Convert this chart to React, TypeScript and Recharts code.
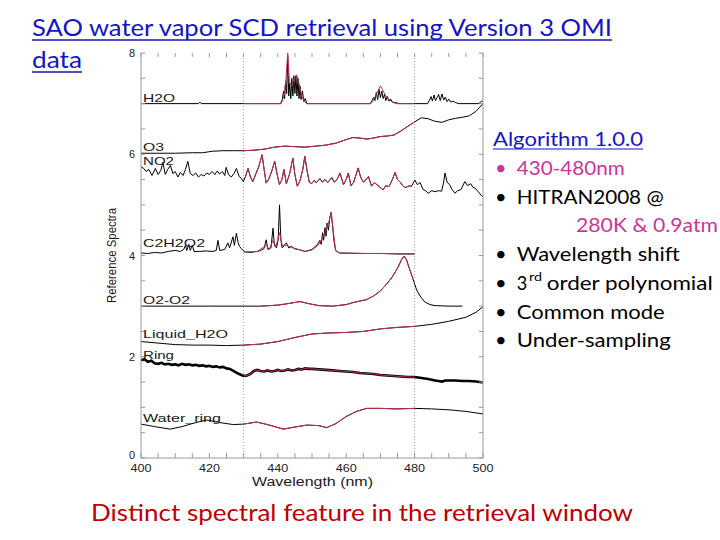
import { LineChart, Line, XAxis, YAxis, ReferenceLine } from "recharts";

type Pt = [number, number];

// axis ticks
const X_TICKS = [400, 405, 410, 415, 420, 425, 430, 435, 440, 445, 450, 455, 460, 465, 470, 475, 480, 485, 490, 495, 500];
const X_LABELS = [400, 420, 440, 460, 480, 500];
const Y_TICKS = [0, 0.5, 1, 1.5, 2, 2.5, 3, 3.5, 4, 4.5, 5, 5.5, 6, 6.5, 7, 7.5, 8];
const Y_LABELS = [0, 2, 4, 6, 8];
const FIT_WINDOW: Pt = [430, 480];
const GRID_X = [430, 480];

// reference spectra (wavelength nm, offset value)
const H2O: Pt[] = [
  [400, 7.0], [416.8, 7.0], [417.2, 7.03], [417.6, 7.0], [440.8, 7.0], [441.3, 7.08], [441.7, 7.25], [442.0, 7.1],
  [442.3, 7.45], [442.6, 7.2], [442.9, 7.95], [443.2, 7.15], [443.5, 7.4], [443.8, 7.1], [444.1, 7.5], [444.4, 7.15],
  [444.7, 7.55], [445.0, 7.2], [445.3, 7.55], [445.6, 7.15], [445.9, 7.5], [446.2, 7.1], [446.5, 7.35], [446.8, 7.08],
  [447.2, 7.25], [447.6, 7.04], [448.0, 7.1], [448.5, 7.0], [467.0, 7.0], [467.5, 7.05], [468.0, 7.12], [468.4, 7.06],
  [468.8, 7.22], [469.2, 7.08], [469.6, 7.28], [470.0, 7.12], [470.4, 7.25], [470.8, 7.1], [471.2, 7.18], [471.6, 7.06],
  [472.0, 7.14], [472.5, 7.05], [473.0, 7.09], [473.5, 7.03], [474.5, 7.02], [475.5, 7.0], [483.8, 7.0], [484.3, 7.06],
  [484.8, 7.14], [485.2, 7.05], [485.7, 7.17], [486.1, 7.06], [486.6, 7.12], [487.0, 7.18], [487.5, 7.06], [488.0, 7.19],
  [488.5, 7.07], [489.0, 7.13], [489.5, 7.04], [490.0, 7.09], [490.6, 7.03], [491.2, 7.05], [492.0, 7.02], [493.0, 7.0],
  [498.8, 7.0], [499.2, 7.03], [499.6, 7.05], [500, 7.04],
];
const H2O_FIT: Pt[] = [
  [430, 7.0], [441.0, 7.0], [441.8, 7.15], [442.4, 7.5], [442.9, 8.0], [443.4, 7.45], [444.0, 7.35], [444.8, 7.5],
  [445.5, 7.57], [446.2, 7.4], [447.0, 7.15], [447.8, 7.04], [448.6, 7.0], [467.2, 7.0], [468.0, 7.08], [468.8, 7.18],
  [469.5, 7.28], [470.0, 7.35], [470.6, 7.28], [471.3, 7.18], [472.2, 7.1], [473.3, 7.04], [474.5, 7.0], [480, 7.0],
];
const O3: Pt[] = [
  [400, 6.02], [405, 6.02], [410, 6.02], [415, 6.03], [418, 6.03], [421, 6.06], [424, 6.07], [427, 6.07], [430, 6.07],
  [433, 6.08], [436, 6.1], [439, 6.14], [442, 6.16], [445, 6.15], [448, 6.14], [451, 6.16], [454, 6.18], [457, 6.22],
  [460, 6.29], [462, 6.33], [464, 6.32], [466, 6.3], [468, 6.32], [470, 6.35], [472, 6.36], [474, 6.38], [476, 6.46],
  [478, 6.55], [480, 6.64], [482, 6.72], [484, 6.7], [486, 6.65], [488, 6.63], [490, 6.68], [492, 6.71], [494, 6.73],
  [496, 6.76], [498, 6.85], [500, 7.0],
];
const NO2: Pt[] = [
  [400, 5.75], [400.8, 5.72], [401.5, 5.66], [402.3, 5.7], [403.2, 5.58], [404.2, 5.72], [405.0, 5.6], [405.8, 5.68],
  [406.4, 5.84], [407.1, 5.6], [407.8, 5.7], [408.6, 5.78], [409.3, 5.62], [410.0, 5.66], [410.8, 5.55], [411.5, 5.64],
  [412.3, 5.58], [413.0, 5.7], [413.7, 5.86], [414.4, 5.62], [415.2, 5.58], [416.0, 5.63], [416.8, 5.55], [417.6, 5.6],
  [418.4, 5.57], [419.2, 5.63], [420.0, 5.6], [420.8, 5.66], [421.6, 5.6], [422.3, 5.67], [423.0, 5.61], [423.8, 5.66],
  [424.5, 5.58], [424.9, 5.74], [425.6, 5.6], [426.4, 5.55], [427.2, 5.62], [427.9, 5.72], [428.7, 5.56], [429.4, 5.52],
  [429.9, 5.46], [430.5, 5.55], [431.3, 5.72], [432.0, 5.55], [432.7, 5.46], [433.5, 5.6], [434.4, 5.75], [435.4, 5.99],
  [436.0, 5.7], [436.6, 5.43], [437.3, 5.5], [438.2, 5.66], [439.1, 5.86], [439.8, 5.6], [440.5, 5.4], [441.2, 5.5],
  [441.8, 5.7], [442.5, 5.42], [443.4, 5.6], [444.4, 5.92], [445.0, 5.6], [445.7, 5.37], [446.5, 5.48], [447.3, 5.7],
  [447.9, 5.96], [448.5, 5.7], [449.2, 5.45], [449.9, 5.42], [450.6, 5.48], [451.3, 5.44], [452.3, 5.52], [453.0, 5.45],
  [453.8, 5.5], [454.6, 5.44], [455.3, 5.5], [455.8, 5.54], [456.5, 5.45], [457.3, 5.5], [458.2, 5.63], [459.2, 5.4],
  [460.0, 5.5], [460.6, 5.63], [461.4, 5.38], [462.2, 5.45], [463.5, 5.73], [464.2, 5.55], [465.0, 5.45], [465.8, 5.5],
  [466.5, 5.56], [467.4, 5.37], [468.2, 5.44], [469.0, 5.4], [469.8, 5.35], [470.8, 5.3], [471.6, 5.38], [472.5, 5.36],
  [473.5, 5.5], [474.3, 5.64], [475.0, 5.5], [475.8, 5.45], [476.5, 5.38], [477.2, 5.34], [478.2, 5.37], [479.1, 5.37],
  [480.1, 5.49], [480.8, 5.4], [481.6, 5.44], [482.5, 5.3], [483.2, 5.28], [484.0, 5.23], [485.0, 5.28], [486.0, 5.26],
  [487.0, 5.28], [487.9, 5.27], [488.5, 5.45], [488.9, 5.63], [489.5, 5.45], [490.2, 5.4], [491.0, 5.3], [491.8, 5.23],
  [492.6, 5.28], [493.5, 5.3], [494.7, 5.46], [495.5, 5.38], [496.4, 5.42], [497.0, 5.35], [497.7, 5.33], [498.6, 5.26],
  [499.6, 5.18], [500, 5.16],
];
const C2H2O2: Pt[] = [
  [400, 4.05], [402, 4.04], [404, 4.06], [406, 4.05], [408, 4.08], [410, 4.1], [411.5, 4.08], [412.5, 4.12], [413, 4.2],
  [413.4, 4.1], [414, 4.22], [414.4, 4.1], [415, 4.2], [415.5, 4.08], [417, 4.08], [419, 4.09], [421, 4.08], [422, 4.1],
  [422.5, 4.3], [423, 4.1], [424.5, 4.12], [425.4, 4.25], [425.9, 4.15], [426.9, 4.37], [427.3, 4.2], [427.9, 4.44],
  [428.4, 4.25], [428.8, 4.18], [429.3, 4.14], [429.8, 4.1], [430.5, 4.07], [432, 4.06], [434, 4.08], [435, 4.1],
  [436, 4.14], [436.6, 4.31], [437.1, 4.12], [438, 4.15], [438.6, 4.54], [439, 4.2], [439.6, 4.15], [440.1, 4.3],
  [440.5, 5.0], [440.9, 4.3], [441.3, 4.15], [442.5, 4.25], [443.2, 4.15], [444, 4.18], [445, 4.13], [446, 4.12],
  [447, 4.1], [448, 4.08], [449, 4.1], [450, 4.12], [451, 4.18], [451.8, 4.24], [452.3, 4.3], [452.7, 4.22],
  [453.1, 4.45], [453.4, 4.3], [453.8, 4.55], [454.1, 4.38], [454.4, 4.64], [454.8, 4.5], [455.2, 4.75], [455.6, 4.85],
  [456, 4.6], [456.4, 4.3], [456.9, 4.1], [458, 4.05], [465, 4.04], [470, 4.04], [475, 4.03], [480, 4.03],
];
const C2H2O2_FIT: Pt[] = [
  [430, 4.07], [434, 4.08], [436.6, 4.2], [437.5, 4.12], [438.6, 4.3], [439.5, 4.18], [440.5, 4.45], [441.3, 4.2],
  [442.5, 4.2], [444, 4.16], [446, 4.12], [448, 4.08], [450, 4.11], [451.8, 4.2], [453, 4.33], [454, 4.48], [455, 4.68],
  [455.6, 4.85], [456.2, 4.5], [456.9, 4.1], [458, 4.05], [465, 4.04], [470, 4.04], [480, 4.03],
];
const O2O2: Pt[] = [
  [400, 3.0], [420, 3.0], [435, 3.0], [440, 3.02], [443, 3.05], [446.5, 3.09], [449, 3.05], [452, 3.01], [456, 3.0],
  [460, 3.03], [462, 3.07], [464, 3.1], [466, 3.13], [468, 3.2], [470, 3.3], [472, 3.45], [473.5, 3.58], [475, 3.75],
  [476.2, 3.92], [476.9, 3.99], [477.6, 3.92], [478.6, 3.72], [479.6, 3.52], [480.6, 3.32], [481.6, 3.2], [483, 3.08],
  [484.5, 3.03], [486, 3.01], [490, 3.0], [494, 3.0],
];
const LIQUID_H2O: Pt[] = [
  [400, 2.3], [405, 2.27], [410, 2.24], [415, 2.23], [420, 2.23], [425, 2.22], [430, 2.23], [435, 2.25], [440, 2.3],
  [445, 2.38], [450, 2.45], [455, 2.47], [460, 2.48], [465, 2.5], [470, 2.55], [475, 2.58], [480, 2.6], [485, 2.64],
  [490, 2.7], [495, 2.78], [498, 2.88], [500, 2.99],
];
const RING: Pt[] = [
  [400, 1.93], [401, 1.95], [402, 1.9], [403, 1.92], [404, 1.87], [405, 1.86], [406, 1.88], [407, 1.85], [408, 1.86],
  [409, 1.84], [410, 1.85], [411, 1.83], [412, 1.86], [413, 1.84], [414, 1.85], [415, 1.83], [416, 1.84], [417, 1.82],
  [418, 1.83], [419, 1.81], [420, 1.82], [421, 1.8], [422, 1.81], [423, 1.79], [424, 1.8], [425, 1.77], [426, 1.76],
  [427, 1.72], [428, 1.68], [429, 1.65], [430, 1.62], [431, 1.63], [432, 1.66], [433, 1.72], [434, 1.74], [435, 1.72],
  [436, 1.71], [437, 1.73], [438, 1.71], [439, 1.72], [440, 1.74], [441, 1.72], [442, 1.73], [443, 1.75], [444, 1.73],
  [445, 1.74], [446, 1.76], [447, 1.75], [448, 1.77], [449, 1.76], [450, 1.76], [452, 1.75], [454, 1.74], [456, 1.73],
  [458, 1.72], [460, 1.71], [462, 1.7], [464, 1.68], [466, 1.67], [468, 1.66], [470, 1.64], [472, 1.63], [474, 1.62],
  [476, 1.61], [478, 1.6], [480, 1.6], [482, 1.58], [484, 1.56], [486, 1.53], [487, 1.52], [488, 1.51], [489, 1.53],
  [490, 1.53], [492, 1.53], [494, 1.52], [496, 1.52], [498, 1.51], [500, 1.49],
];
const WATER_RING: Pt[] = [
  [400, 0.67], [404, 0.62], [408.5, 0.57], [412, 0.62], [416, 0.7], [419.2, 0.75], [423, 0.7], [427, 0.66], [430, 0.67],
  [433.8, 0.71], [437, 0.66], [441.6, 0.57], [444, 0.6], [448.4, 0.65], [452, 0.64], [454.3, 0.6], [457, 0.68],
  [460, 0.82], [463, 0.92], [466, 0.98], [470, 0.98], [475, 0.97], [480, 0.98], [485, 0.97], [490.4, 0.95], [495, 0.92],
  [500, 0.87],
];

const SPECIES = ["H2O", "O3", "NO2", "C2H2O2", "O2-O2", "Liquid_H2O", "Ring", "Water_ring"];

const AXIS = "#9a9a9a";
const FIT = "#c0304a";
const BLUE = "#1414c8";
const PINK = "#cc3399";
const PLOT_FONT = "'Liberation Sans', Arial, sans-serif";
const SLIDE_FONT = "Lato, 'Open Sans', sans-serif";

const toRows = (pts: Pt[]) => pts.map(([x, y]) => ({ x, y }));
const inWindow = (pts: Pt[]) => pts.filter(([x]) => x >= FIT_WINDOW[0] && x <= FIT_WINDOW[1]);

const series: { key: string; data: Pt[]; fit: Pt[]; width?: number }[] = [
  { key: "water_ring", data: WATER_RING, fit: inWindow(WATER_RING) },
  { key: "ring", data: RING, fit: inWindow(RING), width: 2.6 },
  { key: "liquid", data: LIQUID_H2O, fit: inWindow(LIQUID_H2O) },
  { key: "o2o2", data: O2O2, fit: inWindow(O2O2) },
  { key: "c2h2o2", data: C2H2O2, fit: C2H2O2_FIT },
  { key: "no2", data: NO2, fit: inWindow(NO2) },
  { key: "o3", data: O3, fit: inWindow(O3) },
  { key: "h2o", data: H2O, fit: H2O_FIT },
];

// label placement (pixels) for the species names inside the plot
const labelPos: Record<string, [number, number, number]> = {
  H2O: [143, 102, 32],
  O3: [143, 151, 21],
  NO2: [143, 164.5, 31],
  C2H2O2: [143, 246.5, 62],
  "O2-O2": [143, 303.5, 47],
  Liquid_H2O: [143, 338, 85],
  Ring: [143, 359, 31],
  Water_ring: [143, 421.5, 78],
};

const LeftTick = (p: any) => {
  const { x, y, payload } = p;
  return (
    <g>
      <line x1={x} x2={x + 4} y1={y} y2={y} stroke={AXIS} />
      {Y_LABELS.includes(payload.value) && (
        <text x={x - 6} y={y + (payload.value === 0 ? 1 : 4)} textAnchor="end" fontSize={11} fontFamily={PLOT_FONT} fill="#222">
          {payload.value}
        </text>
      )}
    </g>
  );
};

const RightTick = (p: any) => {
  const { x, y } = p;
  return <line x1={x} x2={x - 4} y1={y} y2={y} stroke={AXIS} />;
};

const BottomTick = (p: any) => {
  const { x, y, payload } = p;
  return (
    <g>
      <line x1={x} x2={x} y1={y} y2={y - 5} stroke={AXIS} />
      {X_LABELS.includes(payload.value) && (
        <text x={x} y={y + 14} textAnchor="middle" fontSize={11} fontFamily={PLOT_FONT} fill="#222"
          textLength={21} lengthAdjust="spacingAndGlyphs">
          {payload.value}
        </text>
      )}
    </g>
  );
};

const TopTick = (p: any) => {
  const { x, y } = p;
  return <line x1={x} x2={x} y1={y} y2={y + 4} stroke={AXIS} />;
};

const bullets: { text: string; y: number; w: number; color: string }[] = [
  { text: "430-480nm", y: 175, w: 108, color: PINK },
  { text: "HITRAN2008 @", y: 203.5, w: 147, color: "#000" },
  { text: "Wavelength shift", y: 261, w: 163, color: "#000" },
  { text: "Common mode", y: 318.5, w: 148, color: "#000" },
  { text: "Under-sampling", y: 347, w: 154, color: "#000" },
];

export default function App() {
  return (
    <div style={{ position: "absolute", left: 0, top: 0, width: 720, height: 540, background: "#fff", overflow: "hidden" }}>
      <LineChart width={720} height={540} margin={{ top: 43, right: 227, bottom: 52, left: 111 }}>
        <XAxis xAxisId="b" type="number" dataKey="x" domain={[400, 500]} ticks={X_TICKS} interval={0}
          height={30} tickSize={0} tickMargin={0} tickLine={false} stroke={AXIS} tick={<BottomTick />} allowDataOverflow />
        <XAxis xAxisId="t" orientation="top" type="number" dataKey="x" domain={[400, 500]} ticks={X_TICKS} interval={0}
          height={10} tickSize={0} tickMargin={0} tickLine={false} axisLine={false} tick={<TopTick />} allowDataOverflow />
        <YAxis yAxisId="l" type="number" domain={[0, 8]} ticks={Y_TICKS} interval={0} width={30}
          tickSize={0} tickMargin={0} tickLine={false} stroke={AXIS} tick={<LeftTick />} allowDataOverflow />
        <YAxis yAxisId="r" orientation="right" type="number" domain={[0, 8]} ticks={Y_TICKS} interval={0} width={10}
          tickSize={0} tickMargin={0} tickLine={false} stroke={AXIS} tick={<RightTick />} allowDataOverflow />
        {GRID_X.map((g) => (
          <ReferenceLine key={g} x={g} xAxisId="b" yAxisId="l" stroke="#a0a0a0" strokeDasharray="1 2" />
        ))}
        {series.map((s) => (
          <Line key={s.key} data={toRows(s.data)} dataKey="y" xAxisId="b" yAxisId="l" type="linear"
            stroke="#000" strokeWidth={s.width ?? 1} dot={false} isAnimationActive={false} />
        ))}
        {/* fits share the same scale, plotted against the top/right axes */}
        {series.map((s) => (
          <Line key={s.key + "-fit"} data={toRows(s.fit)} dataKey="y" xAxisId="t" yAxisId="r" type="linear"
            stroke={FIT} strokeWidth={1} dot={false} isAnimationActive={false} />
        ))}
      </LineChart>

      <svg width={720} height={540} style={{ position: "absolute", left: 0, top: 0, pointerEvents: "none" }}>
        {SPECIES.map((name) => {
          const [x, y, w] = labelPos[name];
          return (
            <text key={name} x={x} y={y} fontSize={11.5} fontFamily={PLOT_FONT} fill="#1a1a1a"
              textLength={w} lengthAdjust="spacingAndGlyphs">
              {name}
            </text>
          );
        })}
        <text x={252} y={485.5} fontSize={12.5} fontFamily={PLOT_FONT} fill="#1a1a1a" textLength={121}
          lengthAdjust="spacingAndGlyphs">
          Wavelength (nm)
        </text>
        <text x={116} y={255.5} fontSize={12.5} fontFamily={PLOT_FONT} fill="#1a1a1a" textAnchor="middle"
          textLength={95} lengthAdjust="spacingAndGlyphs" transform="rotate(-90 116 255.5)">
          Reference Spectra
        </text>

        {/* slide title */}
        <text x={32} y={35.5} fontSize={24} fontFamily={SLIDE_FONT} fill={BLUE} textLength={580} lengthAdjust="spacingAndGlyphs">
          SAO water vapor SCD retrieval using Version 3 OMI
        </text>
        <line x1={32} x2={612} y1={40} y2={40} stroke={BLUE} strokeWidth={1.5} />
        <text x={32} y={67.5} fontSize={24} fontFamily={SLIDE_FONT} fill={BLUE} textLength={50} lengthAdjust="spacingAndGlyphs">
          data
        </text>
        <line x1={32} x2={82} y1={72} y2={72} stroke={BLUE} strokeWidth={1.5} />

        {/* algorithm notes */}
        <text x={493} y={146} fontSize={20} fontFamily={SLIDE_FONT} fill={BLUE} textLength={150} lengthAdjust="spacingAndGlyphs">
          Algorithm 1.0.0
        </text>
        <line x1={493} x2={643} y1={149} y2={149} stroke={BLUE} strokeWidth={1.2} />
        {bullets.map((b) => (
          <g key={b.text}>
            <text x={495} y={b.y} fontSize={20} fontFamily={SLIDE_FONT} fill={b.color}>•</text>
            <text x={516.7} y={b.y} fontSize={20} fontFamily={SLIDE_FONT} fill={b.color} textLength={b.w}
              lengthAdjust="spacingAndGlyphs">
              {b.text}
            </text>
          </g>
        ))}
        <text x={576} y={232} fontSize={20} fontFamily={SLIDE_FONT} fill={PINK} textLength={142} lengthAdjust="spacingAndGlyphs">
          280K &amp; 0.9atm
        </text>
        <text x={495} y={290} fontSize={20} fontFamily={SLIDE_FONT} fill="#000">•</text>
        <text x={516.7} y={290} fontSize={20} fontFamily={SLIDE_FONT} fill="#000" textLength={10.5} lengthAdjust="spacingAndGlyphs">3</text>
        <text x={529} y={281} fontSize={12} fontFamily={SLIDE_FONT} fill="#000" textLength={13} lengthAdjust="spacingAndGlyphs">rd</text>
        <text x={546.7} y={290} fontSize={20} fontFamily={SLIDE_FONT} fill="#000" textLength={166} lengthAdjust="spacingAndGlyphs">
          order polynomial
        </text>

        <text x={91} y={521} fontSize={24} fontFamily={SLIDE_FONT} fill="#c00000" textLength={542} lengthAdjust="spacingAndGlyphs">
          Distinct spectral feature in the retrieval window
        </text>
      </svg>
    </div>
  );
}
